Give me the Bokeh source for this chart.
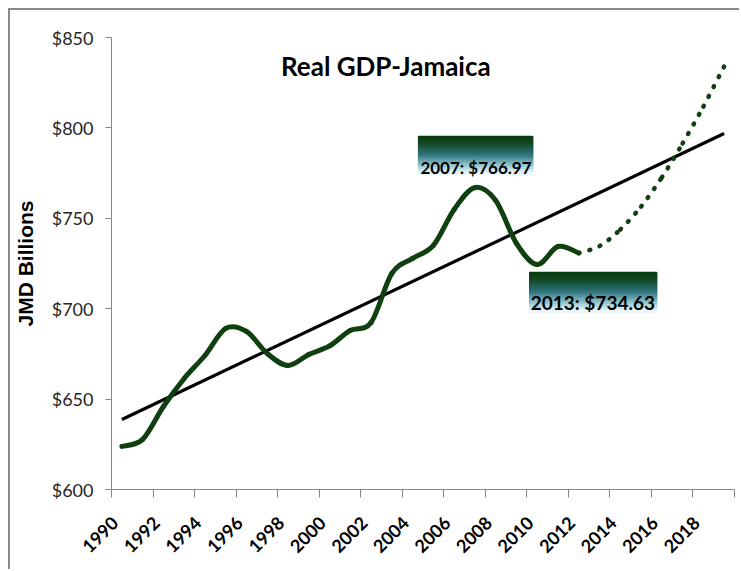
import math
from bokeh.plotting import figure
from bokeh.models import FixedTicker, NumeralTickFormatter, Label
from bokeh.embed import file_html
from bokeh.resources import INLINE

# ---------------- data ----------------
years = list(range(1990, 2013))
gdp = [623.8, 627.7, 645.9, 661.4, 674.1, 689.1, 687.4, 675.2, 668.6, 674.7,
       679.4, 688.0, 692.4, 719.5, 727.8, 735.0, 754.9, 766.97, 759.8, 736.1,
       724.4, 734.4, 730.8]
forecast_years = list(range(2012, 2020))
forecast = [730.8, 734.63, 743.8, 756.5, 772.6, 791.4, 811.8, 834.0]
trend_years = [1990, 2019]
trend = [638.7, 796.9]
x_tick_labels = list(range(1990, 2019, 2))
y_ticks = [600, 650, 700, 750, 800, 850]
title_text = "Real GDP-Jamaica"
y_title = "JMD Billions"
note_peak = "2007: $766.97"
note_last = "2013: $734.63"

# ---------------- style ----------------
GREEN = "#103f10"
AXIS = "#868686"
FONT = "Lato"
LABEL_SHIFT = 0.35   # rotated year labels sit slightly left of the category centre


def bezier_parts(xs, ys):
    """Excel-style smoothed line: cubic segments through each data point."""
    n = len(xs)
    out = dict(x0=[], y0=[], x1=[], y1=[], cx0=[], cy0=[], cx1=[], cy1=[])
    for i in range(n - 1):
        a = max(i - 1, 0)
        d = min(i + 2, n - 1)
        out["x0"].append(xs[i]); out["y0"].append(ys[i])
        out["x1"].append(xs[i + 1]); out["y1"].append(ys[i + 1])
        out["cx0"].append(xs[i] + (xs[i + 1] - xs[a]) / 6.0)
        out["cy0"].append(ys[i] + (ys[i + 1] - ys[a]) / 6.0)
        out["cx1"].append(xs[i + 1] - (xs[d] - xs[i]) / 6.0)
        out["cy1"].append(ys[i + 1] - (ys[d] - ys[i]) / 6.0)
    return out


p = figure(width=731, height=561, output_backend="svg", toolbar_location=None,
           x_range=(1989.5, 2019.5), y_range=(600, 850),
           min_border_left=96, min_border_right=7, min_border_top=27,
           min_border_bottom=82, background_fill_color="white",
           border_fill_color="white")
p.styles = {"margin-left": "8px", "margin-top": "8px",
            "border-left": "2px solid #8a8a8a", "border-top": "2px solid #8a8a8a"}
p.outline_line_color = None
p.grid.visible = False

# x axis
label_pos = [y - LABEL_SHIFT for y in x_tick_labels]
p.xaxis.ticker = FixedTicker(ticks=label_pos,
                             minor_ticks=[y - 0.5 for y in range(1990, 2021, 2)])
p.xaxis.major_label_overrides = {pos: str(y) for pos, y in zip(label_pos, x_tick_labels)}
p.xaxis.major_tick_out = 0
p.xaxis.major_tick_in = 0
p.xaxis.minor_tick_out = 8
p.xaxis.minor_tick_in = 0
p.xaxis.minor_tick_line_color = AXIS
p.xaxis.axis_line_color = AXIS
p.xaxis.major_label_orientation = math.pi / 4
p.xaxis.major_label_text_font = FONT
p.xaxis.major_label_text_font_style = "bold"
p.xaxis.major_label_text_font_size = "18px"
p.xaxis.major_label_text_color = "black"
p.xaxis.major_label_standoff = 22

# y axis
p.yaxis.ticker = FixedTicker(ticks=y_ticks)
p.yaxis.formatter = NumeralTickFormatter(format="$0")
p.yaxis.major_tick_out = 6
p.yaxis.major_tick_in = 0
p.yaxis.minor_tick_out = 0
p.yaxis.minor_tick_in = 0
p.yaxis.axis_line_color = AXIS
p.yaxis.major_tick_line_color = AXIS
p.yaxis.major_label_text_font = FONT
p.yaxis.major_label_text_font_size = "18px"
p.yaxis.major_label_text_color = "#262626"
p.yaxis.major_label_standoff = 12
p.yaxis.axis_label = y_title
p.yaxis.axis_label_text_font = "Liberation Sans"
p.yaxis.axis_label_text_font_style = "bold"
p.yaxis.axis_label_text_font_size = "21px"
p.yaxis.axis_label_text_color = "black"
p.yaxis.axis_label_standoff = 12

# trend line
p.line(trend_years, trend, line_color="black", line_width=3.2)

# actual data (smoothed)
p.bezier(**bezier_parts(years, gdp), line_color=GREEN,
         line_width=5, line_cap="round")
# forecast (smoothed, dotted)
p.bezier(**bezier_parts(forecast_years, forecast), line_color=GREEN,
         line_width=4.5, line_cap="round", line_dash="1 10")


# gradient label boxes
def grad_color(t):
    stops = [(0.0, (8, 58, 10)), (0.2, (18, 72, 38)), (0.5, (45, 115, 125)),
             (0.78, (150, 200, 210)), (1.0, (250, 253, 253))]
    for (t0, c0), (t1, c1) in zip(stops[:-1], stops[1:]):
        if t <= t1:
            f = (t - t0) / (t1 - t0)
            c = [round(c0[k] + (c1[k] - c0[k]) * f) for k in range(3)]
            return "#%02x%02x%02x" % tuple(c)
    return "#ffffff"


def grad_box(left, right, top, bottom, n=16):
    h = (top - bottom) / n
    tops = [top - i * h for i in range(n)]
    bots = [t - h for t in tops]
    cols = [grad_color((i + 0.5) / n) for i in range(n)]
    p.quad(left=[left] * n, right=[right] * n, top=tops, bottom=bots,
           fill_color=cols, line_color=cols, line_width=1.5)


grad_box(2004.29, 2009.78, 795.2, 774.2)
grad_box(2009.64, 2015.75, 720.0, 697.9)

p.add_layout(Label(x=2007.05, y=778.3, text=note_peak, text_align="center",
                   text_baseline="alphabetic", text_font=FONT,
                   text_font_style="bold", text_font_size="17px",
                   text_color="black"))
p.add_layout(Label(x=2012.68, y=703.4, text=note_last, text_align="center",
                   text_baseline="alphabetic", text_font=FONT,
                   text_font_style="bold", text_font_size="19px",
                   text_color="black"))
p.add_layout(Label(x=2002.71, y=834.0, text=title_text, text_align="center",
                   text_baseline="alphabetic", text_font=FONT,
                   text_font_style="bold", text_font_size="26px",
                   text_color="black"))

open("out.html", "w").write(file_html(p, INLINE))
